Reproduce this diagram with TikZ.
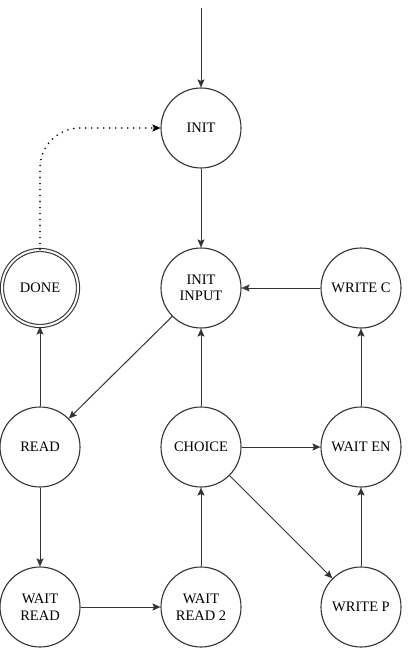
\documentclass[tikz,border=0pt]{standalone}
\usepackage{fontspec}
\setmainfont{Liberation Serif}
\usetikzlibrary{arrows.meta}

\tikzset{
    state/.style={circle, draw=black!80, line width=1.1pt, fill=white, minimum size=80pt, inner sep=0pt, align=center, font=\fontsize{14.5}{16.5}\selectfont},
    trans/.style={draw=black!80, line width=1pt, -{Stealth[length=8pt, width=7pt, inset=1.5pt]}},
}

\begin{document}
\begin{tikzpicture}[x=1pt, y=-1pt]
    \useasboundingbox (0,0) rectangle (412,660);
    \coordinate (start) at (201,8);
    \node[state] (init) at (201,128) {INIT};
    \node[state] (initinput) at (201,288) {INIT\\INPUT};
    \node[state, double, double distance=2pt, minimum size=76pt] (done) at (40,288) {DONE};
    \node[state] (writec) at (361,288) {WRITE C};
    \node[state] (read) at (40,447) {READ};
    \node[state] (choice) at (201,447) {CHOICE};
    \node[state] (waiten) at (361,447) {WAIT EN};
    \node[state] (waitread) at (40,607) {WAIT\\READ};
    \node[state] (waitreadtwo) at (201,607) {WAIT\\READ 2};
    \node[state] (writep) at (361,607) {WRITE P};

    \draw[trans] (start) -- (init);
    \draw[trans] (init) -- (initinput);
    \draw[trans] (writec) -- (initinput);
    \draw[trans] (initinput) -- (read);
    \draw[trans] (read) -- (done);
    \draw[trans] (read) -- (waitread);
    \draw[trans] (waitread) -- (waitreadtwo);
    \draw[trans] (waitreadtwo) -- (choice);
    \draw[trans] (choice) -- (initinput);
    \draw[trans] (choice) -- (waiten);
    \draw[trans] (choice) -- (writep);
    \draw[trans] (writep) -- (waiten);
    \draw[trans] (waiten) -- (writec);
    \draw[trans, black, line width=1.8pt, line cap=round, dash pattern=on 0pt off 6pt, rounded corners=40pt] (done.north) |- (init.west);
\end{tikzpicture}
\end{document}
